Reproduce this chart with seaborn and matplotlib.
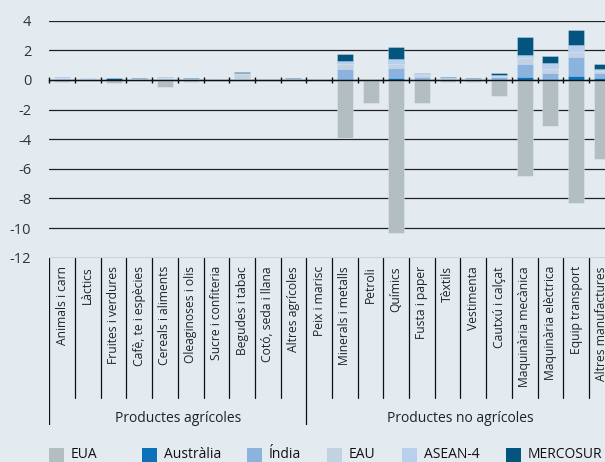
import numpy as np
import pandas as pd
import seaborn as sns
from matplotlib import pyplot as plt
from matplotlib.patches import Rectangle

sns.set_theme(style="white")
plt.rcParams['font.family'] = ['Open Sans', 'DejaVu Sans']

cats = ['Animals i carn', 'Làctics', 'Fruites i verdures', 'Cafè, te i espècies',
        'Cereals i aliments', 'Oleaginoses i olis', 'Sucre i confiteria',
        'Begudes i tabac', 'Cotó, seda i llana', 'Altres agrícoles',
        'Peix i marisc', 'Minerals i metalls', 'Petroli', 'Químics',
        'Fusta i paper', 'Tèxtils', 'Vestimenta', 'Cautxú i calçat',
        'Maquinària mecànica', 'Maquinària elèctrica', 'Equip transport',
        'Altres manufactures']
groups = ['Productes agrícoles', 'Productes no agrícoles']
group_sizes = [10, 12]

eua = [-0.14, -0.03, -0.19, -0.05, -0.48, -0.15, -0.03, 0, 0, -0.10,
       -0.10, -3.95, -1.55, -10.35, -1.58, -0.15, -0.12, -1.07, -6.47, -3.09, -8.33, -5.34]
australia = [0, 0, 0, 0, 0, 0, 0, 0, 0, 0,
             0, 0.06, 0, 0.15, 0.02, 0, 0, 0.03, 0.17, 0.08, 0.24, 0.10]
india = [0.08, 0.08, 0.03, 0.05, 0.08, 0.04, 0.04, 0.02, 0, 0.05,
         0.02, 0.70, 0, 0.63, 0.18, 0.08, 0.05, 0.15, 0.90, 0.41, 1.31, 0.36]
eau = [0.02, 0.04, 0, 0, 0.06, 0, 0.04, 0.40, 0, 0,
       0, 0.29, 0, 0.27, 0.12, 0.04, 0, 0.07, 0.40, 0.27, 0.33, 0.14]
asean = [0.08, 0.04, 0, 0, 0.06, 0, 0, 0.07, 0, 0,
         0, 0.23, 0, 0.34, 0.12, 0.03, 0, 0.06, 0.23, 0.40, 0.50, 0.14]
mercosur = [0, 0, 0.08, 0.05, 0, 0.06, 0, 0.07, 0, 0.05,
            0, 0.45, 0, 0.86, 0, 0.05, 0.07, 0.13, 1.18, 0.43, 0.97, 0.36]

series = ['EUA', 'Austràlia', 'Índia', 'EAU', 'ASEAN-4', 'MERCOSUR']
colors = ['#b3bec3', '#0a72b9', '#8cb2de', '#c2d2e1', '#b8d0ee', '#03557f']
bg = '#e3ebf1'

df = pd.DataFrame({'cat': cats, 'EUA': eua, 'Austràlia': australia, 'Índia': india,
                   'EAU': eau, 'ASEAN-4': asean, 'MERCOSUR': mercosur})

fig = plt.figure(figsize=(6.05, 4.62), dpi=100, facecolor=bg)
ax = fig.add_axes([49.3 / 605, (462 - 257.7) / 462, 565.4 / 605, 237 / 462])
ax.set_facecolor(bg)

# stacked positives: draw cumulative totals from the top layer down
pos = series[1:]
for i in range(len(pos), 0, -1):
    cum = df[pos[:i]].sum(axis=1)
    sns.barplot(x=df['cat'], y=cum, order=cats, color=colors[i], width=0.62,
                saturation=1, edgecolor=(1, 1, 1, 0.3), linewidth=0.6, ax=ax)
sns.barplot(x=df['cat'], y=df['EUA'], order=cats, color=colors[0], width=0.62,
            saturation=1, edgecolor=(1, 1, 1, 0.3), linewidth=0.6, ax=ax)

ax.set_xlim(-0.5, len(cats) - 0.5)
ax.set_ylim(-12, 4)
ax.set_yticks(np.arange(-12, 5, 2))
ax.set_yticklabels([str(v) for v in range(-12, 5, 2)], fontsize=10.5, color='#333333')
ax.tick_params(axis='y', length=0, pad=13)
ax.yaxis.grid(True, color='#222222', linewidth=0.9)
ax.set_axisbelow(True)
for s in ['top', 'right', 'left']:
    ax.spines[s].set_visible(False)
ax.spines['bottom'].set_position(('data', 0))
ax.spines['bottom'].set_color('#111111')
ax.spines['bottom'].set_linewidth(1)
ax.spines['bottom'].set_zorder(5)
ax.set_xticks(np.arange(-0.5, len(cats), 1))
ax.set_xticklabels([])
ax.tick_params(axis='x', direction='inout', length=5, width=1, color='#111111', bottom=True)
ax.set_xlabel('')
ax.set_ylabel('')

# category table under the plot
ax2 = fig.add_axes([49.3 / 605, (462 - 425) / 462, 565.4 / 605, 167.3 / 462])
ax2.set_xlim(-0.5, len(cats) - 0.5)
ax2.set_ylim(0, 1)
ax2.axis('off')
ymin_cat = (425 - 398) / 167.3
edges = [-0.5]
for n in group_sizes:
    edges.append(edges[-1] + n)
for k in range(1, len(cats)):
    xk = k - 0.5
    if xk in edges:
        continue
    ax2.plot([xk, xk], [ymin_cat, 1], color='#111111', lw=0.9)
for xk in edges:
    ax2.plot([xk, xk], [0, 1], color='#111111', lw=0.9)
for i, c in enumerate(cats):
    ax2.text(i, 0.95, c, rotation=90, ha='center', va='top', fontsize=8.7, color='#222222')
start = -0.5
for g, n in zip(groups, group_sizes):
    ax2.text(start + n / 2, 0.04, g, ha='center', va='center', fontsize=10, color='#222222')
    start += n

# legend, entries laid out like the original
leg_x = [49, 142, 247, 327, 402, 506]
for s, c, x0 in zip(series, colors, leg_x):
    fig.patches.append(Rectangle((x0 / 605, 1 - 462 / 462), 15 / 605, 14 / 462,
                                 transform=fig.transFigure, facecolor=c, edgecolor='none'))
    fig.text((x0 + 22) / 605, 1 - 455 / 462, s, ha='left', va='center',
             fontsize=10, color='#111111')

fig.savefig('out.png', dpi=100, facecolor=bg)
